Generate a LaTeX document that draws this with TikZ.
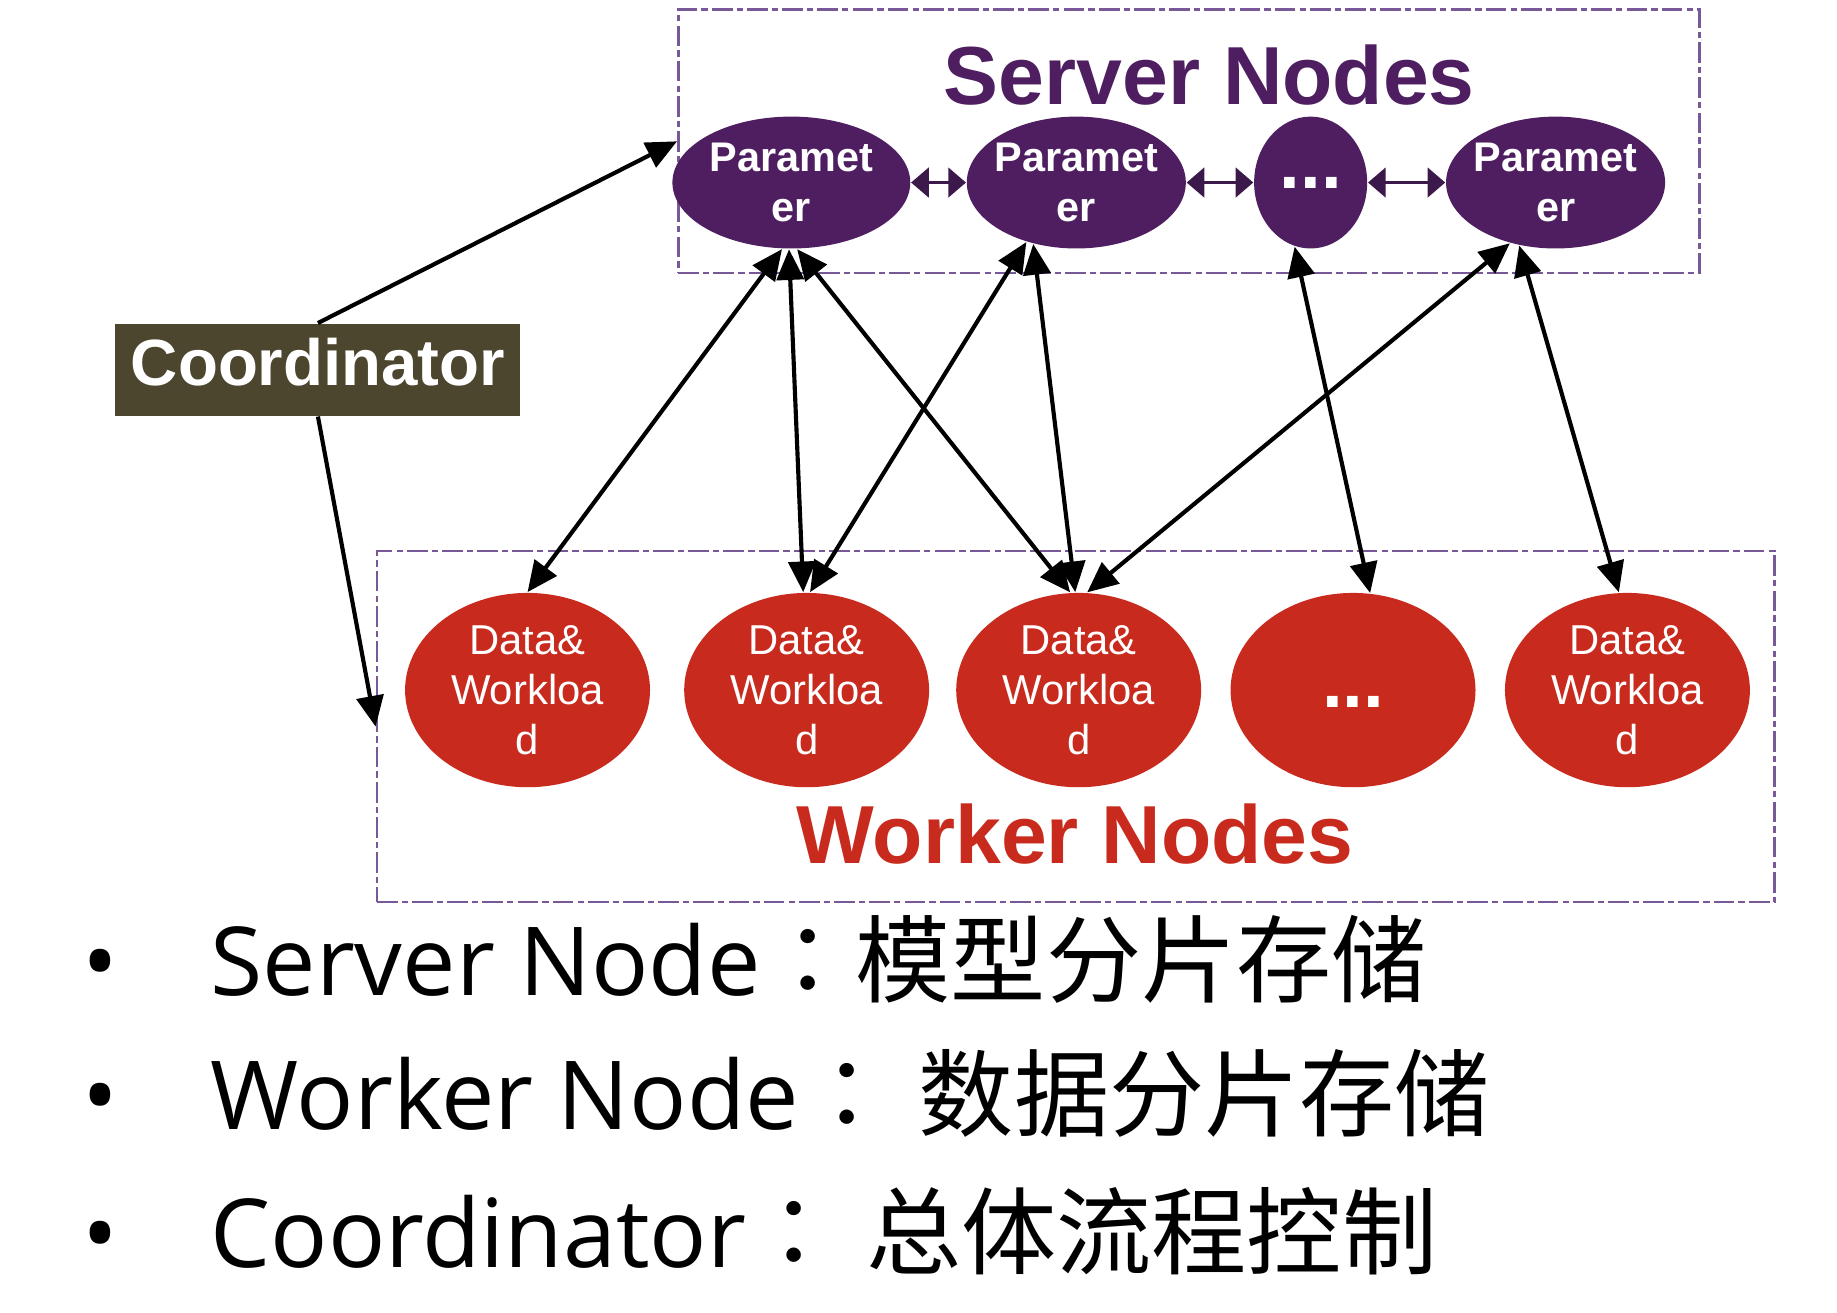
\documentclass[tikz,border=0pt]{standalone}
\usepackage{fontspec}
\setmainfont{Liberation Sans}
\newfontfamily\listfont{Open Sans}
\newfontfamily\cjk{Noto Sans CJK SC}
\newfontfamily\cjkcolon{Noto Sans CJK TC}
\usetikzlibrary{shapes.geometric,arrows.meta}
\definecolor{srvpurple}{RGB}{78,30,96}
\definecolor{boxpurple}{RGB}{120,88,150}
\definecolor{wrkred}{RGB}{200,42,30}
\definecolor{coordolive}{RGB}{76,70,46}
\definecolor{peerpurple}{RGB}{60,25,75}
\tikzset{
  grp/.style={draw=boxpurple,line width=0.6pt,dash pattern=on 5pt off 1pt on 1.5pt off 1pt,inner sep=0pt},
  srv/.style={ellipse,fill=srvpurple,inner sep=0pt,minimum height=1.12cm},
  srvtxt/.style={text=white,align=center,font=\fontsize{10}{12}\selectfont\bfseries},
  wrk/.style={ellipse,fill=wrkred,inner sep=0pt,minimum width=2.08cm,minimum height=1.65cm},
  wrktxt/.style={text=white,align=center,font=\fontsize{10.1}{12.1}\selectfont},
  dots/.style={text=white,font=\fontsize{18}{18}\selectfont\bfseries},
  bi/.style={line width=1pt,{Triangle[length=0.26cm,width=0.23cm]}-{Triangle[length=0.26cm,width=0.23cm]}},
  uni/.style={line width=1pt,-{Triangle[length=0.26cm,width=0.23cm]}},
  peer/.style={line width=0.8pt,peerpurple,{Triangle[length=0.15cm,width=0.25cm]}-{Triangle[length=0.15cm,width=0.25cm]}},
  item/.style={font=\listfont\fontsize{23}{28}\selectfont}
}
\begin{document}
\begin{tikzpicture}
  \useasboundingbox (0,0) rectangle (15.6,-11.142);
  \node[grp,minimum width=8.67cm,minimum height=2.24cm] (sbox) at (10.095,-1.20) {};
  \node[grp,minimum width=11.87cm,minimum height=2.98cm] (wbox) at (9.135,-6.17) {};
  \node[anchor=base,text=srvpurple,font=\fontsize{19.9}{24}\selectfont\bfseries] (stitle) at (10.27,-0.89) {Server Nodes};
  \node[anchor=base,text=wrkred,font=\fontsize{19.9}{24}\selectfont\bfseries] (wtitle) at (9.13,-7.33) {Worker Nodes};
  \node[srv,minimum width=2.02cm,label={[srvtxt]center:{Paramet\\er}}] (p1) at (6.72,-1.55) {};
  \node[srv,minimum width=1.86cm,label={[srvtxt]center:{Paramet\\er}}] (p2) at (9.14,-1.55) {};
  \node[srv,minimum width=0.96cm,label={[dots]center:...}] (p3) at (11.13,-1.55) {};
  \node[srv,minimum width=1.86cm,label={[srvtxt]center:{Paramet\\er}}] (p4) at (13.21,-1.55) {};
  \draw[peer] (p1) -- (p2);
  \draw[peer] (p2) -- (p3);
  \draw[peer] (p3) -- (p4);
  \node[wrk,label={[wrktxt]center:{Data\&\\Workloa\\d}}] (w1) at (4.48,-5.86) {};
  \node[wrk,label={[wrktxt]center:{Data\&\\Workloa\\d}}] (w2) at (6.85,-5.86) {};
  \node[wrk,label={[wrktxt]center:{Data\&\\Workloa\\d}}] (w3) at (9.16,-5.86) {};
  \node[wrk,label={[dots,yshift=-0.1cm]center:...}] (w4) at (11.49,-5.86) {};
  \node[wrk,label={[wrktxt]center:{Data\&\\Workloa\\d}}] (w5) at (13.82,-5.86) {};
  \node[fill=coordolive,text=white,minimum width=3.44cm,minimum height=0.78cm,inner sep=0pt,text depth=0.14cm,font=\fontsize{15.8}{18}\selectfont\bfseries] (coord) at (2.70,-3.14) {Coordinator};
  \draw[uni] (coord.north) -- (sbox.west);
  \draw[uni] (coord.south) -- (wbox.west);
  \draw[bi] (p1.262) -- (w1.north);
  \draw[bi] (p1.268) -- (w2.92);
  \draw[bi] (p1.275) -- (w3.95);
  \draw[bi] (p2.230) -- (w2.88);
  \draw[bi] (p2.235) -- (w3.92);
  \draw[bi] (p3.256) -- (w4.80);
  \draw[bi] (p4.233) -- (w3.85);
  \draw[bi] (p4.240) -- (w5.95);
  \node[item,anchor=base] (b1) at (0.85,-8.45) {•};
  \node[item,anchor=base] (b2) at (0.85,-9.59) {•};
  \node[item,anchor=base] (b3) at (0.85,-10.76) {•};
  \node[item,anchor=base west,inner sep=0pt] (t1) at (1.78,-8.45) {Server Node{\cjkcolon ：}{\cjk 模型分片存储}};
  \node[item,anchor=base west,inner sep=0pt] (t2) at (1.78,-9.59) {Worker Node{\cjkcolon ：} {\cjk 数据分片存储}};
  \node[item,anchor=base west,inner sep=0pt] (t3) at (1.78,-10.76) {Coordinator{\cjkcolon ：} {\cjk 总体流程控制}};
\end{tikzpicture}
\end{document}
